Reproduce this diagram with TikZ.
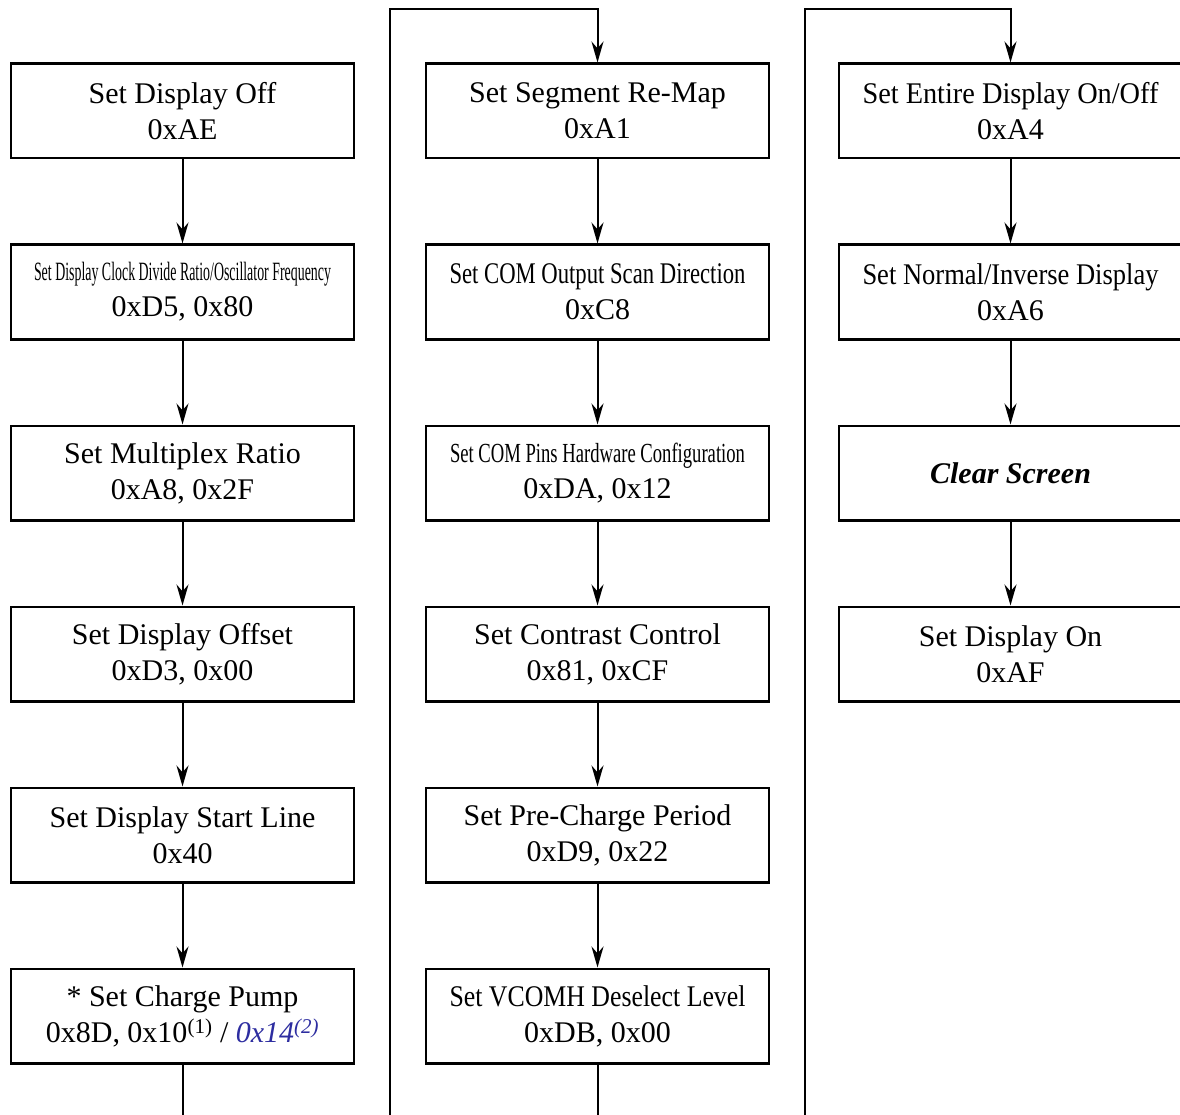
\documentclass[tikz,border=0pt]{standalone}
\usepackage{fontspec}
\setmainfont{Liberation Serif}
\usepackage{graphicx}
\usetikzlibrary{positioning,arrows.meta}
\definecolor{hexblue}{RGB}{45,45,160}
\newcommand{\squeeze}[1]{\resizebox{296pt}{\height}{#1}}

\begin{document}
\begin{tikzpicture}[x=1pt, y=-1pt,
  >={Stealth[length=21pt,width=12pt]},
  cmd/.style={draw, line width=2.4pt, minimum width=343pt, minimum height=94.6pt,
    inner sep=0pt, align=center, font=\fontsize{30}{36}\selectfont},
  flow/.style={->, line width=2pt},
  node distance=84pt]
  \useasboundingbox (0,0) rectangle (1180,1115);
  \clip (0,0) rectangle (1180,1115);

  % First column
  \node[cmd] (off) at (182.5,111) {Set Display Off\\0xAE};
  \node[cmd, below=of off] (clk) {\resizebox{297pt}{0.88\height}{Set Display Clock Divide Ratio/Oscillator Frequency}\\0xD5, 0x80};
  \node[cmd, below=of clk] (mux) {Set Multiplex Ratio\\0xA8, 0x2F};
  \node[cmd, below=of mux] (offs) {Set Display Offset\\0xD3, 0x00};
  \node[cmd, below=of offs] (start) {Set Display Start Line\\0x40};
  \node[cmd, below=of start] (pump) {* Set Charge Pump\\0x8D, 0x10\textsuperscript{(1)} / \textcolor{hexblue}{\textit{0x14\textsuperscript{(2)}}}};

  % Second column
  \node[cmd] (remap) at (597.5,111) {Set Segment Re-Map\\0xA1};
  \node[cmd, below=of remap] (scan) {\squeeze{Set COM Output Scan Direction}\\0xC8};
  \node[cmd, below=of scan] (pins) {\resizebox{295pt}{0.92\height}{Set COM Pins Hardware Configuration}\\0xDA, 0x12};
  \node[cmd, below=of pins] (contrast) {Set Contrast Control\\0x81, 0xCF};
  \node[cmd, below=of contrast] (precharge) {Set Pre-Charge Period\\0xD9, 0x22};
  \node[cmd, below=of precharge] (vcomh) {\squeeze{Set VCOMH Deselect Level}\\0xDB, 0x00};

  % Third column
  \node[cmd] (entire) at (1010.5,111) {\squeeze{Set Entire Display On/Off}\\0xA4};
  \node[cmd, below=of entire] (inverse) {\squeeze{Set Normal/Inverse Display}\\0xA6};
  \node[cmd, below=of inverse] (clear) {\textbf{\textit{Clear Screen}}};
  \node[cmd, below=of clear] (on) {Set Display On\\0xAF};

  \foreach \a/\b in {off/clk, clk/mux, mux/offs, offs/start, start/pump,
    remap/scan, scan/pins, pins/contrast, contrast/precharge, precharge/vcomh,
    entire/inverse, inverse/clear, clear/on}
    \draw[flow] (\a) -- (\b);

  % wrap round to the next column
  \coordinate (deep) at (0,1200);
  \coordinate (loopa) at (390,9);
  \coordinate (loopb) at (805,9);
  \draw[flow] (pump.south) -- (pump.south |- deep) -| (loopa) -| (remap.north);
  \draw[flow] (vcomh.south) -- (vcomh.south |- deep) -| (loopb) -| (entire.north);
\end{tikzpicture}
\end{document}
